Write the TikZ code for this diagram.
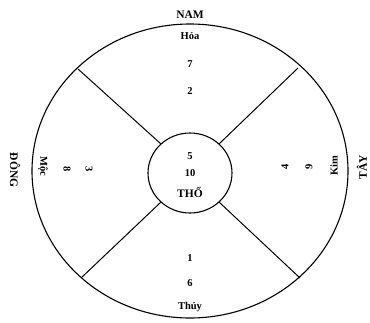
\documentclass[tikz,border=0pt]{standalone}
\usepackage{fontspec}
\setmainfont{Liberation Serif}
\usetikzlibrary{shapes.geometric}

\begin{document}
\begin{tikzpicture}[
		x=1pt, y=-1pt,
		rim/.style={line width=1.1pt, black},
		spoke/.style={line width=1pt, black},
		lbl/.style={font=\bfseries\fontsize{10.5}{12}\selectfont, inner sep=1pt},
		big lbl/.style={font=\bfseries\fontsize{11.5}{13}\selectfont, inner sep=1pt},
		left lbl/.style={lbl, rotate=-90},
		right lbl/.style={lbl, rotate=90}
		]
		\useasboundingbox (0,0) rectangle (370,322);
		
		% ---------------------------------------------------------
		% Outer ring and the centre (Thổ)
		% ---------------------------------------------------------
		\draw[rim] (190,171) ellipse (158 and 147);
		\node[draw, rim, ellipse, minimum width=84pt, minimum height=80pt, inner sep=0pt] (tho) at (190,173) {};
		
		% spoke ends on the outer ring
		\coordinate (ul) at (78,69);
		\coordinate (ur) at (298,68);
		\coordinate (ll) at (81,278);
		\coordinate (lr) at (300,278);
		
		\draw[spoke] (ul) -- (tho.135);
		\draw[spoke] (ur) -- (tho.45);
		\draw[spoke] (ll) -- (tho.-135);
		\draw[spoke] (lr) -- (tho.-45);
		
		\node[lbl] (c5) at (190,156) {5};
		\node[lbl] (c10) at (190,173) {10};
		\node[big lbl] (cTho) at (190,192) {THỔ};
		
		% ---------------------------------------------------------
		% South (top): Hỏa
		% ---------------------------------------------------------
		\node[big lbl] (nam) at (190,15) {NAM};
		\node[lbl] (hoa) at (190,36) {Hỏa};
		\node[lbl] (s7) at (190,64) {7};
		\node[lbl] (s2) at (190,91) {2};
		
		% ---------------------------------------------------------
		% North (bottom): Thủy
		% ---------------------------------------------------------
		\node[lbl] (n1) at (190,258) {1};
		\node[lbl] (n6) at (190,283) {6};
		\node[lbl] (thuy) at (190,307) {Thủy};
		
		% ---------------------------------------------------------
		% East (left): Mộc
		% ---------------------------------------------------------
		\node[big lbl, rotate=-90] (dong) at (15,170) {ĐÔNG};
		\node[left lbl] (moc) at (43,166) {Mộc};
		\node[left lbl] (e8) at (67,169) {8};
		\node[left lbl] (e3) at (89,169) {3};
		
		% ---------------------------------------------------------
		% West (right): Kim
		% ---------------------------------------------------------
		\node[right lbl] (w4) at (285,167) {4};
		\node[right lbl] (w9) at (309,167) {9};
		\node[right lbl] (kim) at (334,166) {Kim};
		\node[big lbl, rotate=90] (tay) at (362,167) {TÂY};
		
	\end{tikzpicture}
\end{document}
